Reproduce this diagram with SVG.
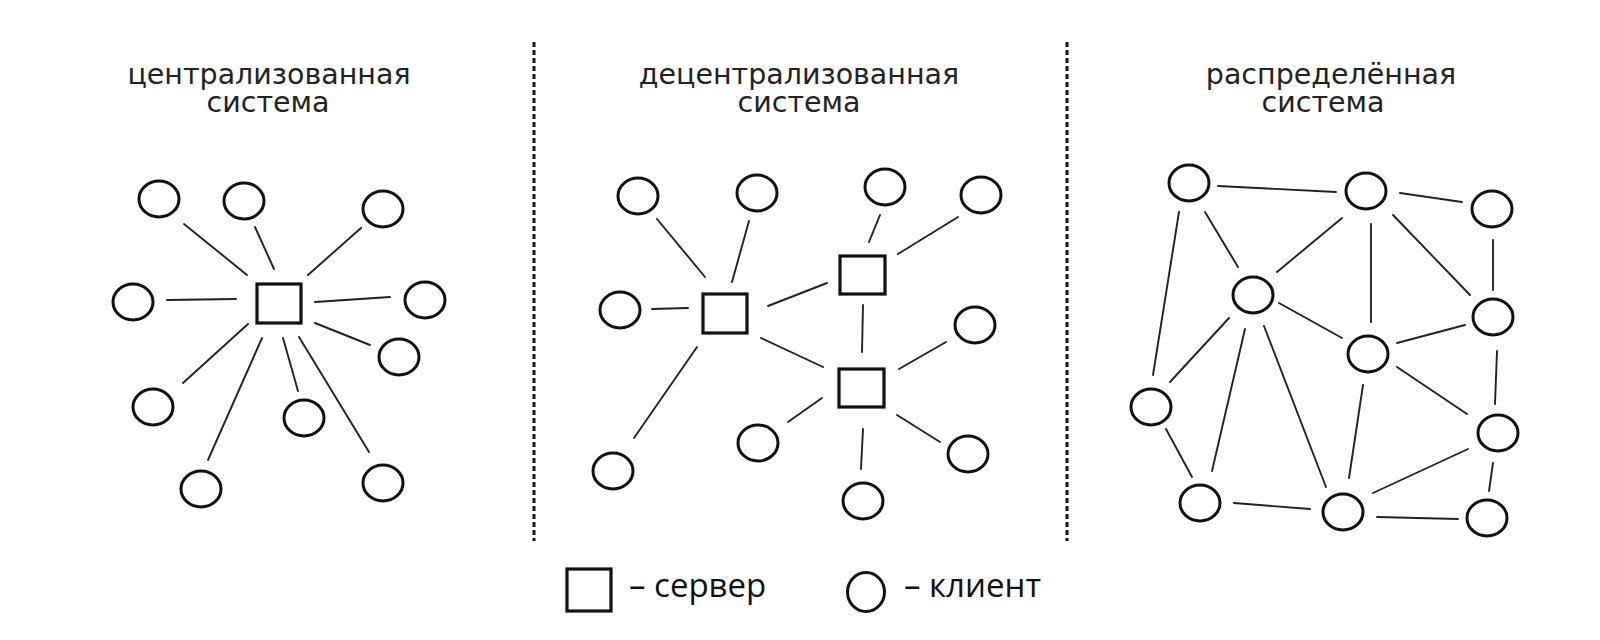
<svg xmlns="http://www.w3.org/2000/svg" width="1600" height="640" viewBox="0 0 1600 640">
<style>
.c{fill:#fff;stroke:#111;stroke-width:3}
.s{fill:#fff;stroke:#111;stroke-width:3.2}
.l line{stroke:#222;stroke-width:1.9;stroke-linecap:round}
.d{stroke:#111;stroke-width:3;stroke-dasharray:5 3}
.t{font-family:"DejaVu Sans","Noto Sans",sans-serif;font-size:28.5px;fill:#222;text-anchor:middle}
.g{font-family:"Open Sans","Noto Sans",sans-serif;font-size:33px;fill:#111}
</style>
<rect width="1600" height="640" fill="#fff"/>

<g id="dividers">
<line class="d" x1="534" y1="42" x2="534" y2="541"/>
<line class="d" x1="1067" y1="42" x2="1067" y2="541"/>
</g>

<g id="titles">
<text class="t" x="269" y="84">централизованная</text>
<text class="t" x="268" y="112">система</text>
<text class="t" x="799" y="84">децентрализованная</text>
<text class="t" x="799" y="112">система</text>
<text class="t" x="1331" y="84">распределённая</text>
<text class="t" x="1323" y="112">система</text>
</g>

<g id="connectors" class="l">
<!-- centralized -->
<line x1="184" y1="224" x2="247" y2="275"/>
<line x1="255" y1="227" x2="274" y2="269"/>
<line x1="361" y1="228" x2="308" y2="275"/>
<line x1="167" y1="300" x2="236" y2="299"/>
<line x1="315" y1="302" x2="390" y2="297"/>
<line x1="315" y1="323" x2="370" y2="345"/>
<line x1="248" y1="324" x2="183" y2="383"/>
<line x1="262" y1="338" x2="208" y2="460"/>
<line x1="283" y1="338" x2="298" y2="391"/>
<line x1="299" y1="337" x2="369" y2="452"/>
<!-- decentralized -->
<line x1="657" y1="219" x2="705" y2="277"/>
<line x1="749" y1="221" x2="732" y2="282"/>
<line x1="652" y1="309" x2="688" y2="308"/>
<line x1="697" y1="347" x2="634" y2="438"/>
<line x1="768" y1="306" x2="827" y2="283"/>
<line x1="761" y1="338" x2="823" y2="367"/>
<line x1="880" y1="215" x2="869" y2="242"/>
<line x1="898" y1="254" x2="958" y2="217"/>
<line x1="863" y1="305" x2="862" y2="352"/>
<line x1="899" y1="369" x2="946" y2="342"/>
<line x1="822" y1="398" x2="788" y2="422"/>
<line x1="863" y1="429" x2="861" y2="469"/>
<line x1="897" y1="415" x2="940" y2="442"/>
<!-- distributed -->
<line x1="1218" y1="186" x2="1336" y2="192"/>
<line x1="1400" y1="193" x2="1462" y2="202"/>
<line x1="1179" y1="212" x2="1153" y2="375"/>
<line x1="1205" y1="212" x2="1238" y2="267"/>
<line x1="1342" y1="218" x2="1277" y2="272"/>
<line x1="1371" y1="224" x2="1371" y2="322"/>
<line x1="1393" y1="215" x2="1470" y2="295"/>
<line x1="1493" y1="240" x2="1493" y2="290"/>
<line x1="1279" y1="303" x2="1342" y2="338"/>
<line x1="1229" y1="318" x2="1170" y2="382"/>
<line x1="1245" y1="329" x2="1212" y2="471"/>
<line x1="1264" y1="326" x2="1326" y2="487"/>
<line x1="1397" y1="343" x2="1465" y2="325"/>
<line x1="1363" y1="385" x2="1349" y2="478"/>
<line x1="1397" y1="367" x2="1467" y2="414"/>
<line x1="1497" y1="351" x2="1495" y2="404"/>
<line x1="1166" y1="429" x2="1192" y2="477"/>
<line x1="1234" y1="503" x2="1310" y2="509"/>
<line x1="1373" y1="493" x2="1468" y2="449"/>
<line x1="1377" y1="517" x2="1458" y2="519"/>
<line x1="1493" y1="463" x2="1489" y2="491"/>
</g>

<g id="centralized">
<rect id="cs1" class="s" x="257" y="284" width="44" height="39"/>
<ellipse id="cc1" class="c" cx="159" cy="199" rx="20" ry="18"/>
<ellipse id="cc2" class="c" cx="244" cy="201" rx="20" ry="18"/>
<ellipse id="cc3" class="c" cx="383" cy="209" rx="20" ry="18"/>
<ellipse id="cc4" class="c" cx="133" cy="302" rx="20" ry="18"/>
<ellipse id="cc5" class="c" cx="425" cy="300" rx="20" ry="18"/>
<ellipse id="cc6" class="c" cx="399" cy="357" rx="20" ry="18"/>
<ellipse id="cc7" class="c" cx="153" cy="407" rx="20" ry="18"/>
<ellipse id="cc8" class="c" cx="304" cy="418" rx="20" ry="18"/>
<ellipse id="cc9" class="c" cx="201" cy="489" rx="20" ry="18"/>
<ellipse id="cc10" class="c" cx="383" cy="483" rx="20" ry="18"/>
</g>

<g id="decentralized">
<rect id="ds1" class="s" x="703" y="294" width="44" height="39"/>
<rect id="ds2" class="s" x="840" y="256" width="45" height="38"/>
<rect id="ds3" class="s" x="839" y="369" width="45" height="38"/>
<ellipse id="dc1" class="c" cx="638" cy="196" rx="20" ry="18"/>
<ellipse id="dc2" class="c" cx="757" cy="193" rx="20" ry="18"/>
<ellipse id="dc3" class="c" cx="885" cy="187" rx="20" ry="18"/>
<ellipse id="dc4" class="c" cx="981" cy="195" rx="20" ry="18"/>
<ellipse id="dc5" class="c" cx="620" cy="310" rx="20" ry="18"/>
<ellipse id="dc6" class="c" cx="975" cy="325" rx="20" ry="18"/>
<ellipse id="dc7" class="c" cx="613" cy="471" rx="20" ry="18"/>
<ellipse id="dc8" class="c" cx="758" cy="443" rx="20" ry="18"/>
<ellipse id="dc9" class="c" cx="863" cy="501" rx="20" ry="18"/>
<ellipse id="dc10" class="c" cx="968" cy="454" rx="20" ry="18"/>
</g>

<g id="distributed">
<ellipse id="nA" class="c" cx="1189" cy="183" rx="20" ry="18"/>
<ellipse id="nB" class="c" cx="1366" cy="191" rx="20" ry="18"/>
<ellipse id="nC" class="c" cx="1492" cy="209" rx="20" ry="18"/>
<ellipse id="nD" class="c" cx="1253" cy="295" rx="20" ry="18"/>
<ellipse id="nE" class="c" cx="1493" cy="317" rx="20" ry="18"/>
<ellipse id="nF" class="c" cx="1368" cy="354" rx="20" ry="18"/>
<ellipse id="nG" class="c" cx="1151" cy="407" rx="20" ry="18"/>
<ellipse id="nH" class="c" cx="1498" cy="433" rx="20" ry="18"/>
<ellipse id="nI" class="c" cx="1200" cy="503" rx="20" ry="18"/>
<ellipse id="nJ" class="c" cx="1343" cy="512" rx="20" ry="18"/>
<ellipse id="nK" class="c" cx="1487" cy="518" rx="20" ry="18"/>
</g>

<g id="legend">
<rect class="s" x="567" y="569" width="44" height="42"/>
<text class="g" x="629" y="597">– сервер</text>
<ellipse class="c" cx="866" cy="592" rx="18.5" ry="19.5"/>
<text class="g" x="904" y="597">– клиент</text>
</g>
</svg>
